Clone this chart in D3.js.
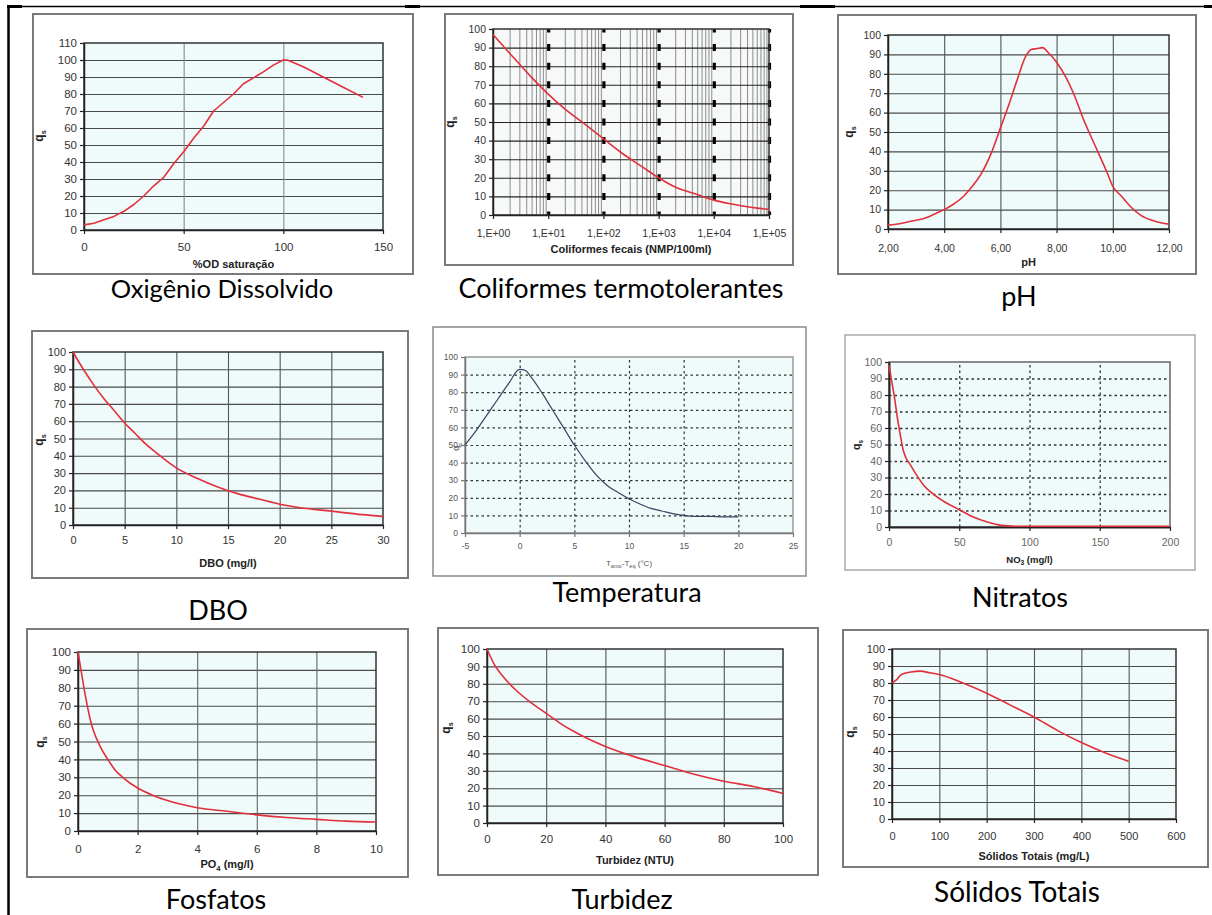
<!DOCTYPE html>
<html>
<head>
<meta charset="utf-8">
<script src="https://cdn.jsdelivr.net/npm/d3@7"></script>
<style>
  body { margin: 0; background: #fff; }
  svg { display: block; }
</style>
</head>
<body>
<div id="chart"></div>
<script>
// Values
const odX = [0, 5, 10, 15, 20, 25, 30, 35, 40, 45, 50, 55, 60, 65, 70, 75, 80, 85, 90, 95, 100, 102, 110, 120, 130, 140];
const odY = [3, 4, 6, 8, 11, 15, 20, 26, 31, 39, 46, 54, 61, 70, 75, 80, 86, 89.5, 93, 97, 100, 100, 96, 90, 84, 78];

const colX = [1, 2, 5, 10, 20, 50, 100, 200, 500, 1000, 2000, 5000, 10000, 20000, 50000, 100000];
const colY = [97, 87, 74, 65, 57, 48, 41, 34, 26, 20, 15, 11, 8, 6, 4, 3];

const phX = [2, 2.5, 3, 3.3, 3.7, 4, 4.3, 4.7, 5, 5.3, 5.7, 6, 6.3, 6.6, 6.9, 7.1, 7.3, 7.5, 7.7, 8, 8.3, 8.6, 9, 9.4, 9.8, 10, 10.3, 10.6, 11, 11.5, 12];
const phY = [2, 3, 4.5, 5.5, 8, 10, 12.5, 17, 22, 28, 40, 52, 64, 77, 89, 92.5, 93, 93.5, 91, 86, 79, 70, 55, 42, 29, 22, 17, 12, 7, 4, 2.5];

const dboX = [0, 1, 2, 3, 4, 5, 6, 7, 8, 10, 12, 14, 16, 18, 20, 22, 25, 28, 30];
const dboY = [100, 90, 81, 73, 66, 59, 53, 47, 42, 33, 27, 22, 18, 15, 12, 10, 8, 6, 5];

const tempX = [-5, -4, -3, -2, -1, 0, 0.5, 1, 2, 3, 4, 5, 6, 7, 8, 9, 10, 11, 12, 13, 14, 15, 16, 17, 18, 19, 20];
const tempY = [50, 58, 67, 76, 85, 93, 92.5, 89, 80, 70, 60, 50, 41, 33, 27, 23, 19.5, 16.5, 14, 12.5, 11, 10, 9.5, 9.5, 9.3, 9.2, 9.2];

const no3X = [0, 1, 2, 4, 6, 8, 10, 12, 15, 20, 25, 30, 40, 50, 60, 70, 80, 90, 100, 150, 200];
const no3Y = [98, 93, 88, 78, 66, 56, 47, 42, 38, 31, 25, 21, 15, 10.5, 6, 3, 1, 0.5, 0.5, 0.5, 0.5];

const po4X = [0, 0.1, 0.2, 0.3, 0.4, 0.5, 0.75, 1, 1.25, 1.5, 2, 2.5, 3, 4, 5, 6, 7, 8, 9, 10];
const po4Y = [100, 90, 80, 71, 63, 57, 47, 40, 34, 30, 24, 20, 17, 13, 11, 9, 7.5, 6.5, 5.5, 5];

const turbX = [0, 2.5, 5, 10, 15, 20, 25, 30, 40, 50, 60, 70, 80, 90, 100];
const turbY = [100, 91, 85, 76, 69, 63, 57, 52, 44, 38, 33, 28, 24, 21, 17];

const stX = [0, 10, 20, 40, 60, 80, 100, 150, 200, 250, 300, 350, 400, 450, 500];
const stY = [80, 82, 85, 86.5, 87, 86, 85, 80, 74, 67, 60, 52, 45, 39, 34];

// Tick values and labels
const q100Ticks = [0, 10, 20, 30, 40, 50, 60, 70, 80, 90, 100];
const q110Ticks = [0, 10, 20, 30, 40, 50, 60, 70, 80, 90, 100, 110];
const odTicks = [0, 50, 100, 150];
const colTicks = [1, 10, 100, 1000, 10000, 100000];
const colTickLabels = ["1,E+00", "1,E+01", "1,E+02", "1,E+03", "1,E+04", "1,E+05"];
const phTicks = [2, 4, 6, 8, 10, 12];
const phTickLabels = ["2,00", "4,00", "6,00", "8,00", "10,00", "12,00"];
const dboTicks = [0, 5, 10, 15, 20, 25, 30];
const tempTicks = [-5, 0, 5, 10, 15, 20, 25];
const no3Ticks = [0, 50, 100, 150, 200];
const po4Ticks = [0, 2, 4, 6, 8, 10];
const turbTicks = [0, 20, 40, 60, 80, 100];
const stTicks = [0, 100, 200, 300, 400, 500, 600];

const captions = ["Oxigênio Dissolvido", "Coliformes termotolerantes", "pH",
                  "DBO", "Temperatura", "Nitratos",
                  "Fosfatos", "Turbidez", "Sólidos Totais"];

const width = 1212;
const height = 915;

const svg = d3.select("#chart").append("svg")
    .attr("width", width)
    .attr("height", height);

// page table borders
svg.append("line").attr("x1", 8).attr("x2", 1212).attr("y1", 6.5).attr("y2", 6.5)
    .attr("stroke", "#000").attr("stroke-width", 1.5);
[[7, 22], [405, 420], [800, 835], [1204, 1212]].forEach(s => {
    svg.append("line").attr("x1", s[0]).attr("x2", s[1]).attr("y1", 6.5).attr("y2", 6.5)
        .attr("stroke", "#000").attr("stroke-width", 3);
});
svg.append("line").attr("x1", 8.5).attr("x2", 8.5).attr("y1", 5).attr("y2", 915)
    .attr("stroke", "#000").attr("stroke-width", 2.5);

const red = "#e0303c";
const solidGrid = {color: "#4a4a4a", width: 1.1, dash: null};
const dotGrid = {color: "#333", width: 1.3, dash: "2.5,3"};

const panels = [
    {xs: odX, ys: odY, xDomain: [0, 150], yDomain: [0, 110], xTicks: odTicks, yTicks: q110Ticks,
     vGrid: [50, 100], hGrid: q110Ticks.slice(1, -1), grid: solidGrid, vColor: "#8a8a8a",
     frame: [33, 14, 413, 274], plot: [84, 43, 383, 230], xLab: 251, xTitleY: 268, yTitle: [43, 136],
     xTitle: [["%OD saturação"]], cap: [222, 298], capSize: 25.5, font: 11.5, curve: d3.curveLinear},
    {xs: colX, ys: colY, log: true, xDomain: [1, 100000], yDomain: [0, 100], xTicks: colTicks, yTicks: q100Ticks,
     xLabels: colTickLabels, vGrid: [10, 100, 1000, 10000, 100000], hGrid: q100Ticks.slice(1, -1), grid: {color: "#222", width: 1.1},
     frame: [445, 14, 793, 265], plot: [493, 29, 769, 215], xLab: 237, xTitleY: 253, yTitle: [454, 122],
     xTitle: [["Coliformes fecais (NMP/100ml)"]], cap: [621, 298], font: 10.5, fill: "#f7f9f9"},
    {xs: phX, ys: phY, xDomain: [2, 12], yDomain: [0, 100], xTicks: phTicks, yTicks: q100Ticks,
     xLabels: phTickLabels, vGrid: [4, 6, 8, 10], hGrid: q100Ticks.slice(1, -1), grid: solidGrid, vColor: "#555",
     frame: [838, 15, 1196, 274], plot: [888, 35, 1169, 229], xLab: 252, xTitleY: 266, yTitle: [853, 132],
     xTitle: [["pH"]], cap: [1019, 306], font: 10.5},
    {xs: dboX, ys: dboY, xDomain: [0, 30], yDomain: [0, 100], xTicks: dboTicks, yTicks: q100Ticks,
     vGrid: [5, 10, 15, 20, 25], hGrid: q100Ticks.slice(1, -1), grid: solidGrid, vColor: "#555",
     frame: [32, 331, 408, 578], plot: [73, 352, 383, 525], xLab: 544, xTitleY: 567, yTitle: [43, 440],
     xTitle: [["DBO (mg/l)"]], cap: [218, 620], font: 11},
    {xs: tempX, ys: tempY, xDomain: [-5, 25], yDomain: [0, 100], xTicks: tempTicks, yTicks: q100Ticks,
     vGrid: [0, 5, 10, 15, 20], hGrid: q100Ticks.slice(1, -1), grid: {color: "#333", width: 1.2, dash: "2.5,3"},
     frame: [433, 327, 806, 576], plot: [465, 357, 793, 533], xLab: 549, xTitleY: 566, yTitle: [459, 447],
     xTitle: [["T"], ["amo", true], ["-T"], ["eq", true], [" (°C)"]], cap: [627, 602], font: 8.5,
     titleFont: 8, titleWeight: "normal", labelColor: "#555", lineColor: "#3c4160", lineWidth: 1.2,
     border: "#999", axisColor: "#777", frameColor: "#8a8a8a", frameWidth: 1.5},
    {xs: no3X, ys: no3Y, xDomain: [0, 200], yDomain: [0, 100], xTicks: no3Ticks, yTicks: q100Ticks,
     vGrid: [50, 100, 150], hGrid: q100Ticks.slice(1, -1), grid: dotGrid,
     frame: [845, 335, 1195, 570], plot: [889, 362, 1170, 527], xLab: 546, xTitleY: 563, yTitle: [860, 445],
     xTitle: [["NO"], ["3", true], [" (mg/l)"]], cap: [1020, 607], font: 10.5, titleFont: 9.5,
     labelColor: "#666", border: "#666", axisColor: "#222", axisWidth: 2, frameColor: "#aaa", frameWidth: 1.5},
    {xs: po4X, ys: po4Y, xDomain: [0, 10], yDomain: [0, 100], xTicks: po4Ticks, yTicks: q100Ticks,
     vGrid: [2, 4, 6, 8], hGrid: q100Ticks.slice(1, -1), grid: solidGrid, vColor: "#666",
     frame: [27, 629, 408, 877], plot: [78, 652, 376, 831], xLab: 853, xTitleY: 868, yTitle: [44, 742],
     xTitle: [["PO"], ["4", true], [" (mg/l)"]], cap: [216, 909], font: 11.5},
    {xs: turbX, ys: turbY, xDomain: [0, 100], yDomain: [0, 100], xTicks: turbTicks, yTicks: q100Ticks,
     vGrid: [20, 40, 60, 80], hGrid: q100Ticks.slice(1, -1), grid: solidGrid, vColor: "#555",
     frame: [438, 628, 818, 875], plot: [487, 649, 783, 823], xLab: 843, xTitleY: 864, yTitle: [450, 728],
     xTitle: [["Turbidez (NTU)"]], cap: [622, 909], font: 11.5},
    {xs: stX, ys: stY, xDomain: [0, 600], yDomain: [0, 100], xTicks: stTicks, yTicks: q100Ticks,
     vGrid: [100, 200, 300, 400, 500], hGrid: q100Ticks.slice(1, -1), grid: solidGrid, vColor: "#555",
     frame: [843, 630, 1208, 867], plot: [892, 649, 1176, 819], xLab: 840, xTitleY: 860, yTitle: [854, 732],
     xTitle: [["Sólidos Totais (mg/L)"]], cap: [1017, 902], capSize: 28, font: 11}
];

function drawPanel(p, i) {
    const g = svg.append("g").attr("class", "panel");
    const [fx0, fy0, fx1, fy1] = p.frame;
    const [px0, py0, px1, py1] = p.plot;
    const w = px1 - px0, h = py1 - py0;
    const font = "'Liberation Sans', Arial, sans-serif";

    // outer chart frame
    g.append("rect")
        .attr("x", fx0).attr("y", fy0)
        .attr("width", fx1 - fx0).attr("height", fy1 - fy0)
        .attr("fill", "#fff")
        .attr("stroke", p.frameColor || "#7a7a7a")
        .attr("stroke-width", p.frameWidth || 2);

    const x = (p.log ? d3.scaleLog() : d3.scaleLinear()).domain(p.xDomain).range([px0, px1]);
    const y = d3.scaleLinear().domain(p.yDomain).range([py1, py0]);

    // plot background
    g.append("rect")
        .attr("x", px0).attr("y", py0).attr("width", w).attr("height", h)
        .attr("fill", p.fill || "#effafa");

    // minor log grid lines (2..9 of each decade)
    if (p.log) {
        const minor = x.ticks().filter(v => Math.abs(Math.log10(v) - Math.round(Math.log10(v))) > 1e-6);
        g.append("g")
            .attr("transform", `translate(0,${py1})`)
            .call(d3.axisBottom(x).tickValues(minor).tickSize(-h).tickFormat(""))
            .call(s => s.select(".domain").remove())
            .selectAll("line").attr("stroke", "#8c8c8c").attr("stroke-width", 1);
    }

    // horizontal grid
    g.append("g")
        .attr("transform", `translate(${px0},0)`)
        .call(d3.axisLeft(y).tickValues(p.hGrid).tickSize(-w).tickFormat(""))
        .call(s => s.select(".domain").remove())
        .selectAll("line")
        .attr("stroke", p.grid.color).attr("stroke-width", p.grid.width)
        .attr("stroke-dasharray", p.grid.dash || null);

    // vertical grid
    const vg = g.append("g")
        .attr("transform", `translate(0,${py1})`)
        .call(d3.axisBottom(x).tickValues(p.vGrid).tickSize(-h).tickFormat(""))
        .call(s => s.select(".domain").remove())
        .selectAll("line");
    if (p.log) {
        // decade lines drawn as heavy dashes
        const step = h / 10;
        vg.attr("stroke", "#000").attr("stroke-width", 3.2)
            .attr("stroke-dasharray", `7,${step - 7}`).attr("stroke-dashoffset", 3.5);
    } else {
        vg.attr("stroke", p.grid.dash ? p.grid.color : (p.vColor || p.grid.color))
            .attr("stroke-width", p.grid.width)
            .attr("stroke-dasharray", p.grid.dash || null);
    }

    // plot border
    g.append("rect")
        .attr("x", px0).attr("y", py0).attr("width", w).attr("height", h)
        .attr("fill", "none")
        .attr("stroke", p.border || "#333").attr("stroke-width", 1.5);

    // axes
    const labelColor = p.labelColor || "#333";
    const axisColor = p.axisColor || "#222";
    const yAxis = g.append("g")
        .attr("transform", `translate(${px0},0)`)
        .call(d3.axisLeft(y).tickValues(p.yTicks).tickSize(4).tickPadding(3).tickSizeOuter(0));
    const xAxis = g.append("g")
        .attr("transform", `translate(0,${py1})`)
        .call(d3.axisBottom(x).tickValues(p.xTicks).tickSize(4).tickSizeOuter(0)
            .tickFormat((d, k) => p.xLabels ? p.xLabels[k] : d));
    [yAxis, xAxis].forEach(a => {
        a.select(".domain").attr("stroke", axisColor).attr("stroke-width", p.axisWidth || 1.5);
        a.selectAll(".tick line").attr("stroke", axisColor).attr("stroke-width", 1.2);
        a.selectAll("text")
            .attr("font-family", font).attr("font-size", p.font).attr("fill", labelColor);
    });
    xAxis.selectAll("text").attr("y", p.xLab - py1).attr("dy", null);

    // curve
    g.append("path")
        .datum(d3.zip(p.xs, p.ys))
        .attr("fill", "none")
        .attr("stroke", p.lineColor || red)
        .attr("stroke-width", p.lineWidth || 1.6)
        .attr("stroke-linejoin", "round")
        .attr("d", d3.line()
            .x(d => x(d[0]))
            .y(d => y(d[1]))
            .curve(p.curve || d3.curveMonotoneX));

    // x axis title
    const tf = p.titleFont || 11;
    const xt = g.append("text")
        .attr("x", (px0 + px1) / 2).attr("y", p.xTitleY)
        .attr("text-anchor", "middle")
        .attr("font-family", font).attr("font-size", tf)
        .attr("font-weight", p.titleWeight || "bold")
        .attr("fill", p.titleWeight ? "#555" : "#222");
    p.xTitle.forEach((part, k) => {
        const prevSub = k > 0 && p.xTitle[k - 1][1];
        xt.append("tspan")
            .attr("font-size", part[1] ? tf * 0.7 : null)
            .attr("dy", part[1] ? tf * 0.25 : (prevSub ? -tf * 0.25 : null))
            .text(part[0]);
    });

    // y axis title: q with subscript s
    const yt = g.append("text")
        .attr("transform", `translate(${p.yTitle[0]},${p.yTitle[1]}) rotate(-90)`)
        .attr("text-anchor", "middle")
        .attr("font-family", font).attr("font-size", p.titleFont ? tf + 1 : 12)
        .attr("font-weight", p.titleWeight || "bold")
        .attr("fill", p.titleWeight ? "#555" : "#222");
    yt.append("tspan").text("q");
    yt.append("tspan").attr("font-size", "0.6em").attr("dy", 3).text("s");

    // caption below the chart
    g.append("text")
        .attr("x", p.cap[0]).attr("y", p.cap[1])
        .attr("text-anchor", "middle")
        .attr("font-family", "Lato, 'Open Sans', sans-serif")
        .attr("font-size", p.capSize || 27)
        .attr("fill", "#000")
        .text(captions[i]);
}

panels.forEach(drawPanel);
</script>
</body>
</html>
